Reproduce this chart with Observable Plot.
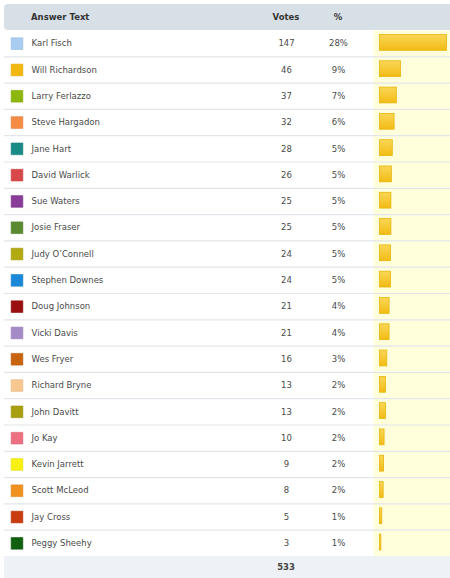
<!DOCTYPE html>
<html>
<head>
<meta charset="utf-8">
<script src="https://cdn.jsdelivr.net/npm/d3@7"></script>
<script src="https://cdn.jsdelivr.net/npm/@observablehq/plot@0.6"></script>
<style>
  html, body { margin: 0; padding: 0; background: #fff; }
  body { width: 450px; height: 578px; overflow: hidden; font-family: "DejaVu Sans", Verdana, sans-serif; }
  .hdr { position: relative; margin: 4px 0 0 4px; height: 26px; background: #d8e0e7; border-radius: 4px 0 0 4px; font-size: 8.5px; font-weight: bold; color: #333; }
  .hdr span, .ftr span { position: absolute; top: 50%; transform: translateY(-50%); }
  .ftr { position: relative; margin-left: 4px; height: 22px; background: #eef2f6; font-size: 8.5px; font-weight: bold; color: #444; }
  svg { display: block; }
</style>
</head>
<body>
<div class="hdr" id="hdr"></div>
<div id="chart"></div>
<div class="ftr" id="ftr"></div>
<script>
const names = ["Karl Fisch","Will Richardson","Larry Ferlazzo","Steve Hargadon","Jane Hart","David Warlick","Sue Waters","Josie Fraser","Judy O’Connell","Stephen Downes","Doug Johnson","Vicki Davis","Wes Fryer","Richard Bryne","John Davitt","Jo Kay","Kevin Jarrett","Scott McLeod","Jay Cross","Peggy Sheehy"];
const votes = [147,46,37,32,28,26,25,25,24,24,21,21,16,13,13,10,9,8,5,3];
const percents = ["28%","9%","7%","6%","5%","5%","5%","5%","5%","5%","4%","4%","3%","2%","2%","2%","2%","2%","1%","1%"];
const swatches = ["#a9cdf0","#f3b80f","#8db70f","#f58c46","#1a8a87","#d84848","#8a3d98","#5a8a30","#b2aa10","#1a88d8","#9a1010","#a58ac8","#c8640f","#f8c890","#a8a010","#ec7080","#f8f010","#f09020","#c83c10","#106010"];
const headers = ["Answer Text","Votes","%"];

const data = names.map((name, i) => ({name, votes: votes[i], pct: percents[i], color: swatches[i]}));
const total = d3.sum(votes);

// header (HTML, above the SVG)
const hdr = document.getElementById("hdr");
[[headers[0], 27, "0"], [headers[1], 282, "-50%"], [headers[2], 334, "-50%"]].forEach(([t, left, tx]) => {
  const s = document.createElement("span");
  s.textContent = t;
  s.style.left = left + "px";
  s.style.transform = `translate(${tx}, -50%)`;
  hdr.appendChild(s);
});
// footer (HTML, below the SVG)
const ftr = document.getElementById("ftr");
const fs = document.createElement("span");
fs.textContent = total;
fs.style.left = "282px";
fs.style.transform = "translate(-50%, -50%)";
ftr.appendChild(fs);

const font = "DejaVu Sans, Verdana, sans-serif";

const defs = () => {
  const d = d3.create("svg:defs");
  const g = d.append("linearGradient").attr("id", "barGrad").attr("x1", 0).attr("y1", 0).attr("x2", 0).attr("y2", 1);
  g.append("stop").attr("offset", "0%").attr("stop-color", "#fbd757");
  g.append("stop").attr("offset", "100%").attr("stop-color", "#f1bb14");
  return d.node();
};

const plot = Plot.plot({
  width: 450,
  height: 526,
  margin: 0,
  style: {background: "transparent", fontFamily: font},
  x: {domain: [0, d3.max(votes)], range: [379.5, 446.5], axis: null},
  y: {domain: names, range: [0, 526], padding: 0, round: false, axis: null},
  marks: [
    defs,
    Plot.frame({fill: "#ffffdc", stroke: null, insetLeft: 373}),
    Plot.ruleY(data, {y: "name", dy: 13.15, stroke: "#e2e6ea", strokeWidth: 1.2, insetLeft: 4}),
    Plot.dot(data, {y: "name", frameAnchor: "left", dx: 16.5, symbol: "square", r: 6.6, fill: "color", stroke: d => d3.color(d.color).darker(0.25).formatHex(), strokeWidth: 0.6}),
    Plot.text(data, {y: "name", text: "name", frameAnchor: "left", dx: 31, textAnchor: "start", fill: "#4a4a4a", fontSize: 8.5}),
    Plot.text(data, {y: "name", text: d => String(d.votes), frameAnchor: "left", dx: 286, textAnchor: "middle", fill: "#4a4a4a", fontSize: 8.5}),
    Plot.text(data, {y: "name", text: "pct", frameAnchor: "left", dx: 338, textAnchor: "middle", fill: "#4a4a4a", fontSize: 8.5}),
    Plot.barX(data, {x: "votes", y: "name", insetTop: 4.5, insetBottom: 6, fill: "url(#barGrad)", stroke: "#e8b40c", strokeWidth: 0.8})
  ]
});
document.getElementById("chart").appendChild(plot);
</script>
</body>
</html>
